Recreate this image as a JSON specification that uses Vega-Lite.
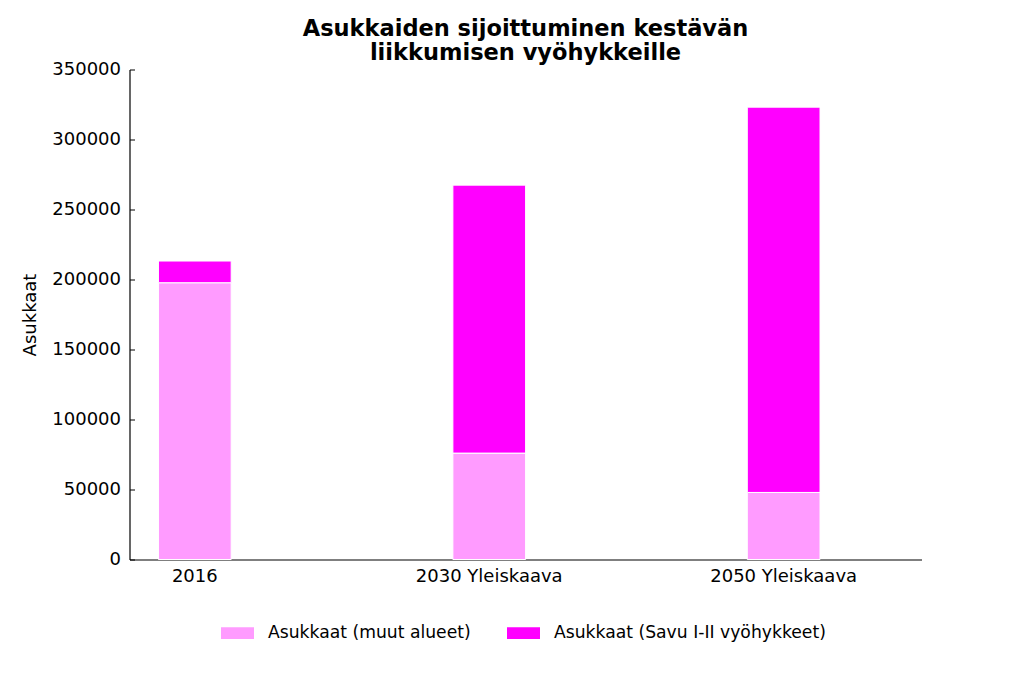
{
  "$schema": "https://vega.github.io/schema/vega-lite/v6.json",
  "autosize": "none",
  "width": 792,
  "height": 490,
  "padding": {"left": 129.5, "top": 69.5, "right": 102.5, "bottom": 123.5},
  "background": "white",
  "title": {
    "text": ["Asukkaiden sijoittuminen kestävän", "liikkumisen vyöhykkeille"],
    "font": "DejaVu Sans",
    "fontSize": 22.5,
    "fontWeight": "bold",
    "color": "black",
    "anchor": "middle",
    "lineHeight": 24,
    "offset": -4
  },
  "config": {
    "view": {"stroke": null},
    "font": "DejaVu Sans",
    "axis": {
      "grid": false,
      "domainColor": "black",
      "domainWidth": 1.2,
      "tickColor": "black",
      "tickSize": -5,
      "labelColor": "black",
      "labelFont": "DejaVu Sans",
      "labelFontSize": 18,
      "titleFont": "DejaVu Sans",
      "titleFontSize": 18,
      "titleFontWeight": "normal",
      "titleColor": "black"
    },
    "legend": {
      "labelFont": "DejaVu Sans",
      "labelFontSize": 17.2,
      "labelColor": "black",
      "labelLimit": 0
    }
  },
  "data": {
    "values": [
      {"vuosi": "2016", "alue": "Asukkaat (muut alueet)", "jarjestys": 1, "asukkaat": 197700},
      {"vuosi": "2016", "alue": "Asukkaat (Savu I-II vyöhykkeet)", "jarjestys": 2, "asukkaat": 15500},
      {"vuosi": "2030 Yleiskaava", "alue": "Asukkaat (muut alueet)", "jarjestys": 1, "asukkaat": 76000},
      {"vuosi": "2030 Yleiskaava", "alue": "Asukkaat (Savu I-II vyöhykkeet)", "jarjestys": 2, "asukkaat": 191400},
      {"vuosi": "2050 Yleiskaava", "alue": "Asukkaat (muut alueet)", "jarjestys": 1, "asukkaat": 47900},
      {"vuosi": "2050 Yleiskaava", "alue": "Asukkaat (Savu I-II vyöhykkeet)", "jarjestys": 2, "asukkaat": 275200}
    ]
  },
  "mark": {"type": "bar", "stroke": "white", "strokeWidth": 1},
  "encoding": {
    "x": {
      "field": "vuosi",
      "type": "nominal",
      "title": null,
      "sort": null,
      "scale": {"paddingInner": 0.753, "paddingOuter": 0.2215, "align": 0.222},
      "axis": {"labelAngle": 0, "labelPadding": 13}
    },
    "y": {
      "field": "asukkaat",
      "type": "quantitative",
      "title": "Asukkaat",
      "scale": {"domain": [0, 350000], "nice": false},
      "axis": {"values": [0, 50000, 100000, 150000, 200000, 250000, 300000, 350000], "format": "d", "labelPadding": 14, "titlePadding": 12}
    },
    "order": {"field": "jarjestys", "type": "quantitative"},
    "color": {
      "field": "alue",
      "type": "nominal",
      "title": null,
      "scale": {
        "domain": ["Asukkaat (muut alueet)", "Asukkaat (Savu I-II vyöhykkeet)"],
        "range": ["#ff9bff", "#ff00ff"]
      },
      "legend": {
        "orient": "none",
        "direction": "horizontal",
        "legendX": 91.5,
        "legendY": 547,
        "symbolType": "M-1,-0.36L1,-0.36L1,0.36L-1,0.36Z",
        "symbolSize": 1089,
        "symbolStrokeWidth": 0,
        "labelOffset": 14,
        "columnPadding": 36
      }
    }
  }
}
